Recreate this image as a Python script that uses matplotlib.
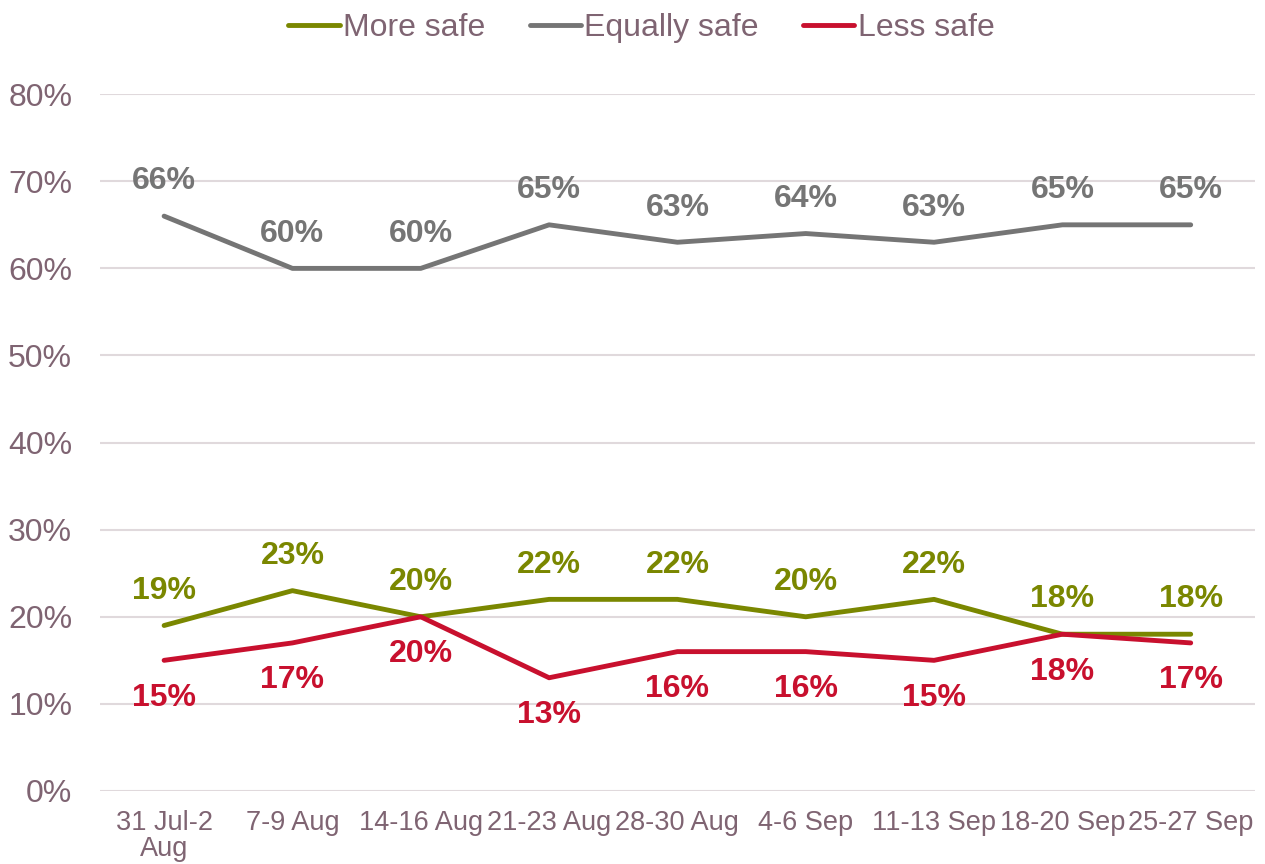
import numpy as np
import matplotlib.pyplot as plt

plt.rcParams['font.family'] = ['Liberation Sans', 'DejaVu Sans']

# Data
periods = ['31 Jul-2\nAug', '7-9 Aug', '14-16 Aug', '21-23 Aug', '28-30 Aug',
           '4-6 Sep', '11-13 Sep', '18-20 Sep', '25-27 Sep']
more_safe = [19, 23, 20, 22, 22, 20, 22, 18, 18]
equally_safe = [66, 60, 60, 65, 63, 64, 63, 65, 65]
less_safe = [15, 17, 20, 13, 16, 16, 15, 18, 17]

txt_col = '#7F6472'
c_more = '#7A8700'
c_equal = '#757575'
c_less = '#C8102E'

fig = plt.figure(figsize=(12.65, 8.64), dpi=100)
ax = fig.add_axes([0.079, 0.0845, 0.913, 0.8065])

x = np.arange(len(periods))
ax.plot(x, more_safe, color=c_more, lw=3.5, label='More safe', zorder=3, solid_capstyle='round')
ax.plot(x, equally_safe, color=c_equal, lw=3.5, label='Equally safe', zorder=3, solid_capstyle='round')
ax.plot(x, less_safe, color=c_less, lw=3.5, label='Less safe', zorder=3, solid_capstyle='round')

# data labels
for i in range(len(x)):
    ax.annotate('{}%'.format(equally_safe[i]), (x[i], equally_safe[i]), xytext=(0, 25),
                textcoords='offset points', ha='center', va='center',
                fontsize=23, fontweight='bold', color=c_equal)
    ax.annotate('{}%'.format(more_safe[i]), (x[i], more_safe[i]), xytext=(0, 25),
                textcoords='offset points', ha='center', va='center',
                fontsize=23, fontweight='bold', color=c_more)
    ax.annotate('{}%'.format(less_safe[i]), (x[i], less_safe[i]), xytext=(0, -27),
                textcoords='offset points', ha='center', va='center',
                fontsize=23, fontweight='bold', color=c_less)

ax.set_xlim(-0.5, len(periods) - 0.5)
ax.set_ylim(0, 80)
ax.set_yticks(np.arange(0, 81, 10))
ax.set_yticklabels(['{}%'.format(v) for v in range(0, 81, 10)])
ax.set_xticks(x)
ax.set_xticklabels(periods, linespacing=1.0)
ax.tick_params(axis='y', length=0, labelsize=23, labelcolor=txt_col, pad=20)
ax.tick_params(axis='x', length=0, labelsize=19.5, labelcolor=txt_col, pad=14)
ax.grid(axis='y', color='#E0D9DC', lw=1.5)
ax.set_axisbelow(True)
for s in ax.spines.values():
    s.set_visible(False)

leg = fig.legend(loc='upper center', bbox_to_anchor=(0.507, 1.018), ncol=3, frameon=False,
                 fontsize=23, handlelength=1.6, handletextpad=0.1, columnspacing=1.4)
for t in leg.get_texts():
    t.set_color(txt_col)

fig.savefig('out.png', dpi=100)
